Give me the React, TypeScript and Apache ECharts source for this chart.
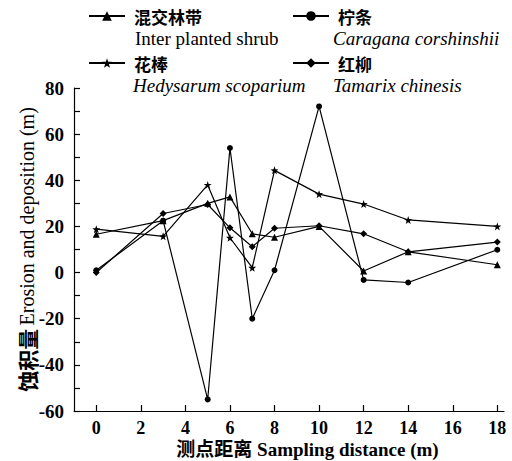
import React, { useEffect, useRef } from "react";
import * as echarts from "echarts";

const distances = [0, 3, 5, 6, 7, 8, 10, 12, 14, 18];
const interPlanted = [16.6, 22.5, 30, 32.8, 16.8, 15.3, 20, 0.7, 9, 3.4];
const caragana = [1, 22.5, -55, 54, -20, 1, 72, -3.2, -4.3, 9.9];
const hedysarum = [18.8, 15.7, 38, 15.1, 2.1, 44.3, 34, 29.7, 22.8, 20];
const tamarix = [0, 25.6, 29.5, 19.4, 11.2, 19.2, 20.3, 16.8, 9, 13.2];
const xTicks = [0, 2, 4, 6, 8, 10, 12, 14, 16, 18];

const seriesNames = ["混交林带", "柠条", "花棒", "红柳"];
const englishNames = ["Inter planted shrub", "Caragana corshinshii", "Hedysarum scoparium", "Tamarix chinesis"];

const STAR = "path://M0,-10 L2.35,-3.24 L9.51,-3.09 L3.8,1.24 L5.88,8.09 L0,4 L-5.88,8.09 L-3.8,1.24 L-9.51,-3.09 L-2.35,-3.24Z";
const SERIF = "'Liberation Serif', 'Times New Roman', serif";
const CJK = "'Noto Sans CJK SC', sans-serif";
const MIX = "'Liberation Serif', 'Noto Sans CJK SC', serif";

const pairs = (vals: number[]) => distances.map((d, i) => [d, vals[i]]);

export default function App() {
  const ref = useRef<HTMLDivElement>(null);
  useEffect(() => {
    if (!ref.current) return;
    const chart = echarts.init(ref.current, null, { renderer: "svg" });
    const lineStyle = { color: "#000", width: 1.2 };
    const mk = (name: string, vals: number[], symbol: string, size: number) => ({
      name,
      type: "line",
      data: pairs(vals),
      symbol,
      symbolSize: size,
      showSymbol: true,
      lineStyle,
      itemStyle: { color: "#000", borderWidth: 0 },
      emphasis: { disabled: true },
    });
    const legendPos = [
      { left: 88, top: 6 },
      { left: 292, top: 6 },
      { left: 88, top: 53 },
      { left: 292, top: 53 },
    ];
    const engPos = [
      { x: 135, y: 38 },
      { x: 333, y: 38 },
      { x: 133, y: 85 },
      { x: 333, y: 85 },
    ];
    const option: any = {
      animation: false,
      backgroundColor: "#fff",
      grid: { left: 74, right: 8, top: 88, bottom: 50, containLabel: false, outerBoundsMode: "none" },
      legend: seriesNames.map((n, i) => ({
        data: [n],
        ...legendPos[i],
        itemWidth: 36,
        itemHeight: 12,
        selectedMode: false,
        padding: 0,
        textStyle: { color: "#000", fontFamily: CJK, fontSize: 17, fontWeight: "bold", lineHeight: 20, padding: [0, 0, 0, 4] },
      })),
      graphic: englishNames.map((t, i) => ({
        type: "text",
        x: engPos[i].x,
        y: engPos[i].y,
        style: {
          text: t,
          fill: "#000",
          fontFamily: SERIF,
          fontSize: 19,
          fontStyle: i === 0 ? "normal" : "italic",
          verticalAlign: "middle",
        },
      })),
      xAxis: {
        type: "value",
        min: -1,
        max: 18.3,
        interval: 1,
        name: "测点距离 Sampling distance (m)",
        nameLocation: "middle",
        nameGap: 29,
        nameMoveOverlap: false,
        nameTextStyle: { color: "#000", fontFamily: MIX, fontSize: 19, fontWeight: "bold", padding: [0, 0, 0, 37] },
        axisLine: { show: true, onZero: false, lineStyle },
        axisTick: { show: true, inside: true, length: 6, customValues: xTicks, lineStyle },
        axisLabel: { customValues: xTicks, margin: 8, color: "#000", fontFamily: SERIF, fontSize: 18, fontWeight: "bold", lineHeight: 18 },
        splitLine: { show: false },
      },
      yAxis: {
        type: "value",
        min: -60,
        max: 80,
        interval: 20,
        name: "{cn|蚀积量} {en|Erosion and deposition (m)}",
        nameLocation: "middle",
        nameGap: 37,
        nameRotate: 90,
        nameMoveOverlap: false,
        nameTextStyle: {
          color: "#000",
          rich: {
            cn: { fontFamily: CJK, fontSize: 21, fontWeight: "bold", color: "#000" },
            en: { fontFamily: SERIF, fontSize: 20, color: "#000" },
          },
        },
        axisLine: { show: true, onZero: false, lineStyle },
        axisTick: { show: true, inside: true, length: 6, lineStyle },
        minorTick: { show: true, splitNumber: 2, length: 6, lineStyle },
        axisLabel: { margin: 10, color: "#000", fontFamily: SERIF, fontSize: 19, fontWeight: "bold" },
        splitLine: { show: false },
        minorSplitLine: { show: false },
      },
      series: [
        mk(seriesNames[0], interPlanted, "triangle", 7),
        mk(seriesNames[1], caragana, "circle", 6),
        mk(seriesNames[2], hedysarum, STAR, 8),
        mk(seriesNames[3], tamarix, "diamond", 7),
      ],
    };
    chart.setOption(option);
    return () => chart.dispose();
  }, []);
  return (
    <div
      ref={ref}
      style={{ position: "fixed", left: 0, top: 0, width: 512, height: 461, background: "#fff" }}
    />
  );
}
